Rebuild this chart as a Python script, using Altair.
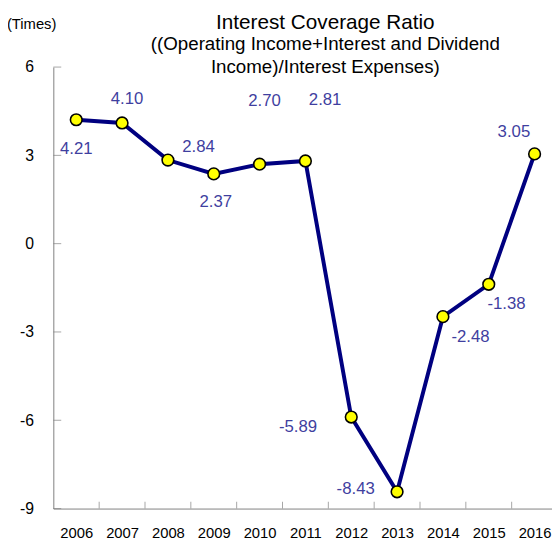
import altair as alt
import pandas as pd

years = [2006, 2007, 2008, 2009, 2010, 2011, 2012, 2013, 2014, 2015, 2016]
ratios = [4.21, 4.10, 2.84, 2.37, 2.70, 2.81, -5.89, -8.43, -2.48, -1.38, 3.05]
y_ticks = [-9, -6, -3, 0, 3, 6]
label_dx = [0, 5, 31, 2, 5, 20, -54, -42, 28, 18, -21]
label_dy = [30, -24, -13, 29, -64, -62, 10, -3, 21, 20, -22]

df = pd.DataFrame({"year": years, "ratio": ratios,
                   "label": [f"{v:.2f}" for v in ratios]})
bounds = pd.DataFrame({"b": [y + 0.5 for y in years[:-1]]})
yt = pd.DataFrame({"v": y_ticks})

FONT = "Liberation Sans"
AX = "#808080"
xdom = [years[0] - 0.5, years[-1] + 0.38]

xenc = alt.X("year:Q", scale=alt.Scale(domain=xdom, nice=False, zero=False),
             axis=alt.Axis(values=years, format="d", tickSize=0, labelPadding=17,
                           labelFontSize=15, labelColor="black", labelFont=FONT,
                           domainColor=AX, grid=False, title=None,
                           labelFlush=False, labelOverlap=False))
yenc = alt.Y("ratio:Q", scale=alt.Scale(domain=[-9, 6], nice=False, zero=False),
             axis=alt.Axis(values=y_ticks, tickSize=0, labelPadding=20,
                           labelExpr="toString(datum.value)",
                           labelFontSize=16, labelColor="black", labelFont=FONT,
                           domainColor=AX, grid=False, title=None))

base = alt.Chart(df)
line = base.mark_line(color="#000080", strokeWidth=4).encode(x=xenc, y=yenc)
pts = base.mark_point(filled=True, fill="#FFFF00", stroke="black", strokeWidth=1.6,
                      size=140, opacity=1, shape="circle").encode(x="year:Q", y="ratio:Q")

xticks = alt.Chart(bounds).mark_tick(orient="vertical", size=7, thickness=1,
                                     color=AX, yOffset=-3.5).encode(
    x="b:Q", y=alt.datum(-9))
yticks = alt.Chart(yt).mark_tick(orient="horizontal", size=8, thickness=1,
                                 color=AX, xOffset=4).encode(
    y="v:Q", x=alt.datum(xdom[0]))

unit = alt.Chart(pd.DataFrame({"t": ["(Times)"]})).mark_text(
    font=FONT, fontSize=15, color="black", dx=-22, dy=-44,
    align="center", baseline="middle").encode(
    x=alt.datum(xdom[0]), y=alt.datum(6), text="t:N")

labels = []
for i in range(len(years)):
    sub = df.iloc[[i]]
    labels.append(alt.Chart(sub).mark_text(
        font=FONT, fontSize=17, color="#3F3F9F", dx=label_dx[i], dy=label_dy[i],
        align="center", baseline="middle").encode(
        x="year:Q", y="ratio:Q", text="label:N"))

chart = alt.layer(line, xticks, yticks, pts, unit, *labels).properties(
    width=506, height=448,
    autosize=alt.AutoSizeParams(type="none"),
    padding={"left": 46, "top": 56, "right": 0, "bottom": 30},
    title=alt.TitleParams(
        text="Interest Coverage Ratio",
        subtitle=["((Operating Income+Interest and Dividend",
                  "Income)/Interest Expenses)"],
        font=FONT, fontSize=21, fontWeight="normal", color="black",
        subtitleFont=FONT, subtitleFontSize=19, subtitleColor="black",
        subtitleLineHeight=23, subtitlePadding=3,
        anchor="middle", dx=23, offset=-61),
).configure_view(stroke=None)

chart.save("out.html", embed_options={"renderer": "svg", "actions": False})
